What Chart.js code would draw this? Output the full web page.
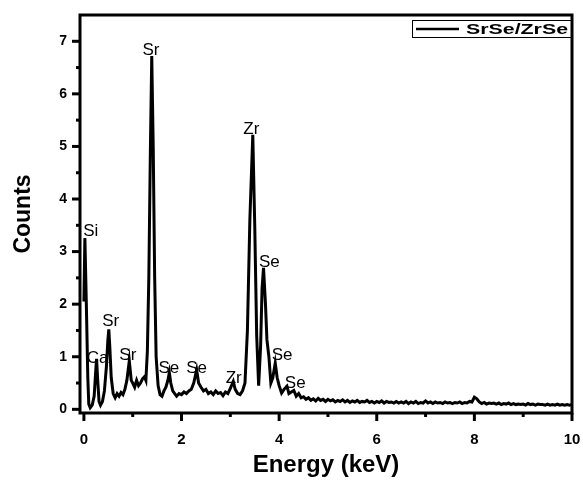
<!DOCTYPE html>
<html>
<head>
<meta charset="utf-8">
<script src="https://cdn.jsdelivr.net/npm/chart.js@4/dist/chart.umd.min.js"></script>
<style>
html,body{margin:0;padding:0;background:#fff;}
#wrap{width:583px;height:487px;}
</style>
</head>
<body>
<div id="wrap"><canvas id="c" width="583" height="487"></canvas></div>
<script>
// ---- data ----
const energy = [
0.00,0.02,0.05,0.08,0.10,0.13,0.17,0.21,0.24,0.26,0.28,0.31,0.34,0.38,0.42,0.46,0.49,0.51,0.53,0.56,
0.60,0.64,0.68,0.72,0.76,0.80,0.84,0.88,0.93,0.97,1.00,1.04,1.08,1.12,1.16,1.20,1.24,1.27,1.30,1.33,
1.36,1.39,1.42,1.45,1.48,1.52,1.56,1.60,1.64,1.68,1.72,1.75,1.78,1.82,1.86,1.90,1.95,2.00,2.05,2.10,
2.15,2.20,2.25,2.31,2.35,2.40,2.45,2.50,2.55,2.60,2.65,2.70,2.75,2.80,2.85,2.90,2.95,3.00,3.06,3.10,
3.15,3.20,3.25,3.30,3.35,3.40,3.46,3.50,3.54,3.58,3.62,3.65,3.68,3.72,3.75,3.79,3.83,3.87,3.92,3.96,
4.00,4.05,4.10,4.16,4.20,4.25,4.30,4.35,4.40,4.45,4.50,4.55,4.60,4.65,4.70,4.75,4.80,4.85,4.90,4.95,
5.00,5.05,5.10,5.15,5.20,5.25,5.30,5.35,5.40,5.45,5.50,5.55,5.60,5.65,5.70,5.75,5.80,5.85,5.90,5.95,
6.00,6.05,6.10,6.15,6.20,6.25,6.30,6.35,6.40,6.45,6.50,6.55,6.60,6.65,6.70,6.75,6.80,6.85,6.90,6.95,
7.00,7.05,7.10,7.15,7.20,7.25,7.30,7.35,7.40,7.45,7.50,7.55,7.60,7.65,7.70,7.75,7.80,7.85,7.90,7.95,
8.00,8.05,8.10,8.15,8.20,8.25,8.30,8.35,8.40,8.45,8.50,8.55,8.60,8.65,8.70,8.75,8.80,8.85,8.90,8.95,
9.00,9.05,9.10,9.15,9.20,9.25,9.30,9.35,9.40,9.45,9.50,9.55,9.60,9.65,9.70,9.75,9.80,9.85,9.90,9.95,10.00
];
const counts = [
2.05,3.26,2.00,0.60,0.10,0.03,0.08,0.25,0.70,0.96,0.60,0.15,0.08,0.15,0.35,0.80,1.30,1.52,1.20,0.60,
0.30,0.22,0.30,0.25,0.32,0.28,0.38,0.55,0.92,0.55,0.50,0.42,0.55,0.45,0.50,0.58,0.62,0.55,1.10,2.50,
4.80,6.72,5.00,2.50,1.00,0.45,0.28,0.25,0.35,0.42,0.55,0.70,0.50,0.35,0.30,0.25,0.30,0.28,0.33,0.30,
0.35,0.38,0.50,0.75,0.50,0.42,0.35,0.38,0.30,0.33,0.28,0.35,0.30,0.32,0.26,0.33,0.30,0.40,0.53,0.38,
0.30,0.28,0.35,0.50,1.50,3.60,5.22,3.50,1.40,0.45,1.20,2.30,2.69,2.00,1.32,1.00,0.50,0.60,0.88,0.60,
0.45,0.31,0.38,0.44,0.30,0.33,0.36,0.25,0.30,0.22,0.24,0.19,0.22,0.17,0.20,0.16,0.21,0.17,0.19,0.15,
0.19,0.16,0.18,0.14,0.17,0.15,0.18,0.14,0.17,0.13,0.16,0.14,0.17,0.13,0.15,0.14,0.17,0.13,0.15,0.12,
0.15,0.13,0.16,0.12,0.15,0.13,0.14,0.12,0.15,0.12,0.14,0.12,0.15,0.11,0.14,0.12,0.15,0.11,0.13,0.12,
0.16,0.12,0.14,0.11,0.14,0.12,0.13,0.11,0.14,0.12,0.13,0.11,0.13,0.12,0.14,0.11,0.13,0.12,0.15,0.14,
0.23,0.20,0.14,0.11,0.13,0.10,0.12,0.11,0.12,0.10,0.12,0.09,0.11,0.10,0.12,0.09,0.11,0.09,0.10,0.09,
0.10,0.08,0.11,0.09,0.10,0.08,0.10,0.09,0.09,0.08,0.10,0.08,0.09,0.08,0.10,0.08,0.09,0.08,0.09,0.08,0.09
];
const xTicks = [0, 2, 4, 6, 8, 10];
const xMinorTicks = [1, 3, 5, 7, 9];
const yTicks = [0, 1, 2, 3, 4, 5, 6, 7];
const yMinorTicks = [0.5, 1.5, 2.5, 3.5, 4.5, 5.5, 6.5];
const peakLabels = ['Si', 'Ca', 'Sr', 'Sr', 'Sr', 'Se', 'Se', 'Zr', 'Zr', 'Se', 'Se', 'Se'];
const peakLabelX = [0.14, 0.28, 0.55, 0.90, 1.375, 1.74, 2.31, 3.07, 3.43, 3.80, 4.06, 4.33];
const peakLabelY = [3.30, 0.88, 1.59, 0.94, 6.74, 0.69, 0.69, 0.51, 5.23, 2.71, 0.94, 0.41];
const seriesName = 'SrSe/ZrSe';
const xTitle = 'Energy (keV)';
const yTitle = 'Counts';

const points = energy.map((e, i) => ({x: e, y: counts[i]}));

const zeroPad = s => { s.paddingLeft = 0; s.paddingRight = 0; s.paddingTop = 0; s.paddingBottom = 0; };

const decor = {
  id: 'decor',
  afterDraw(chart) {
    const ctx = chart.ctx, a = chart.chartArea;
    const xs = chart.scales.x, ys = chart.scales.y;
    ctx.save();
    ctx.strokeStyle = '#000';
    ctx.fillStyle = '#000';
    // frame
    ctx.lineWidth = 3;
    ctx.strokeRect(a.left, a.top, a.right - a.left, a.bottom - a.top);
    // ticks
    ctx.lineCap = 'butt';
    xTicks.forEach(v => { const p = xs.getPixelForValue(v); ctx.beginPath(); ctx.moveTo(p, a.bottom); ctx.lineTo(p, a.bottom + 8); ctx.stroke(); });
    xMinorTicks.forEach(v => { const p = xs.getPixelForValue(v); ctx.beginPath(); ctx.moveTo(p, a.bottom); ctx.lineTo(p, a.bottom + 4); ctx.stroke(); });
    yTicks.forEach(v => { const p = ys.getPixelForValue(v); ctx.beginPath(); ctx.moveTo(a.left, p); ctx.lineTo(a.left - 8, p); ctx.stroke(); });
    yMinorTicks.forEach(v => { const p = ys.getPixelForValue(v); ctx.beginPath(); ctx.moveTo(a.left, p); ctx.lineTo(a.left - 4, p); ctx.stroke(); });
    // peak labels
    ctx.font = '17px "Liberation Sans", Arial, sans-serif';
    ctx.textAlign = 'center';
    ctx.textBaseline = 'alphabetic';
    peakLabels.forEach((t, i) => {
      ctx.fillText(t, xs.getPixelForValue(peakLabelX[i]), ys.getPixelForValue(peakLabelY[i]));
    });
    // axis titles
    ctx.font = 'bold 24px "Liberation Sans", Arial, sans-serif';
    ctx.textAlign = 'center';
    ctx.textBaseline = 'middle';
    ctx.fillText(xTitle, (a.left + a.right) / 2, 465);
    ctx.font = 'bold 23px "Liberation Sans", Arial, sans-serif';
    ctx.save();
    ctx.translate(24, (a.top + a.bottom) / 2);
    ctx.rotate(-Math.PI / 2);
    ctx.fillText(yTitle, 0, 0);
    ctx.restore();
    // legend
    ctx.lineWidth = 1;
    ctx.strokeRect(412.5, 20.5, 160, 17);
    ctx.lineWidth = 2.5;
    ctx.beginPath(); ctx.moveTo(416, 29); ctx.lineTo(459, 29); ctx.stroke();
    ctx.font = 'bold 15px "Liberation Sans", Arial, sans-serif';
    ctx.textAlign = 'left';
    ctx.textBaseline = 'middle';
    const w = ctx.measureText(seriesName).width;
    ctx.save();
    ctx.translate(466, 29.5);
    ctx.scale(102 / w, 1);
    ctx.fillText(seriesName, 0, 0);
    ctx.restore();
    ctx.restore();
  }
};

new Chart(document.getElementById('c'), {
  type: 'line',
  data: { datasets: [{ label: seriesName, data: points, borderColor: '#000', borderWidth: 3, pointRadius: 0, tension: 0, fill: false }] },
  options: {
    responsive: false,
    animation: false,
    layout: { padding: { left: 0, right: 11, top: 15, bottom: 0 } },
    plugins: { legend: { display: false }, tooltip: { enabled: false } },
    scales: {
      x: {
        type: 'linear', min: -0.08, max: 10,
        grid: { display: false, drawTicks: false },
        border: { display: false },
        afterBuildTicks: s => { s.ticks = xTicks.map(v => ({ value: v })); },
        afterFit: s => { s.height = 74; zeroPad(s); },
        ticks: { color: '#000', padding: 18, font: { family: '"Liberation Sans", Arial, sans-serif', size: 15, weight: 'bold' }, maxRotation: 0, autoSkip: false }
      },
      y: {
        type: 'linear', min: -0.07, max: 7.5,
        grid: { display: false, drawTicks: false },
        border: { display: false },
        afterBuildTicks: s => { s.ticks = yTicks.map(v => ({ value: v })); },
        afterFit: s => { s.width = 80; zeroPad(s); },
        ticks: { color: '#000', padding: 13, font: { family: '"Liberation Sans", Arial, sans-serif', size: 14, weight: 'bold' }, autoSkip: false }
      }
    }
  },
  plugins: [decor]
});
</script>
</body>
</html>
